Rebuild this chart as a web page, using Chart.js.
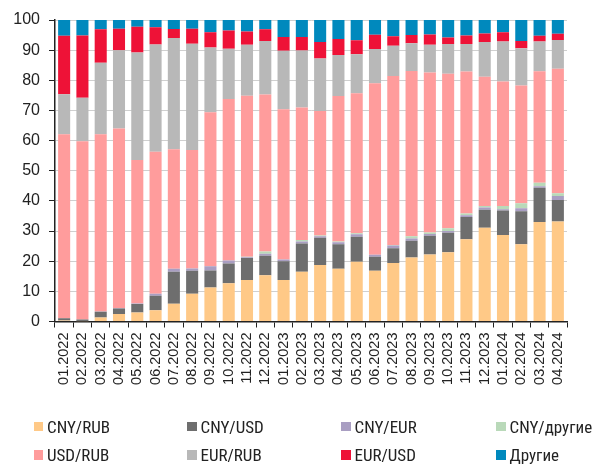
<!DOCTYPE html>
<html>
<head>
<meta charset="utf-8">
<script src="https://cdn.jsdelivr.net/npm/chart.js@4/dist/chart.umd.min.js"></script>
<style>
  html, body { margin: 0; padding: 0; background: #fff; }
  #wrap { position: relative; width: 593px; height: 468px; }
  #c { position: absolute; left: 0; top: 0; }
  .lg { position: absolute; display: flex; align-items: center; font-family: "Liberation Sans Narrow", "Roboto Condensed", Roboto, sans-serif; font-size: 17px; color: #222; white-space: nowrap; }
  .lg span.box { display: inline-block; width: 9.5px; height: 9.5px; margin-right: 4px; }
</style>
</head>
<body>
<div id="wrap">
  <canvas id="c" width="593" height="468"></canvas>
</div>
<script>
const categories = ["01.2022","02.2022","03.2022","04.2022","05.2022","06.2022","07.2022","08.2022","09.2022","10.2022","11.2022","12.2022","01.2023","02.2023","03.2023","04.2023","05.2023","06.2023","07.2023","08.2023","09.2023","10.2023","11.2023","12.2023","01.2024","02.2024","03.2024","04.2024"];

const cnyRub   = [0.3,0.1,1.3,2.5,3.0,3.7,5.9,9.2,11.3,12.7,13.8,15.3,13.8,16.5,18.7,17.5,19.8,16.8,19.4,21.2,22.2,23.0,27.3,31.1,28.7,25.6,33.0,33.2];
const cnyUsd   = [0.8,0.6,1.9,1.8,2.8,4.8,10.6,7.6,5.6,6.5,7.3,6.5,6.2,9.4,9.1,8.1,8.3,4.7,4.9,5.6,6.2,6.4,7.4,6.0,8.1,11.0,11.4,7.1];
const cnyEur   = [0,0,0.1,0.2,0.2,0.7,1.0,0.8,1.4,1.0,0.2,0.7,0.6,0.6,0.5,0.7,0.8,0.6,0.9,0.7,0.6,0.6,0.5,0.7,0.4,1.0,0.5,1.3];
const cnyOther = [0,0,0,0,0,0,0,0,0,0,0.2,0.7,0,0.5,0.2,0.2,0.4,0,0.2,0.8,0.5,0.9,0.6,0.5,1.1,1.6,1.1,0.9];
const usdRub   = [61.0,59.1,58.8,59.5,47.6,47.1,39.6,39.3,51.1,53.6,53.4,52.1,49.8,44.0,41.3,48.3,46.4,56.9,56.0,54.8,53.1,51.3,47.1,42.9,41.3,39.1,37.0,41.3];
const eurRub   = [13.3,14.4,23.7,26.0,35.6,35.6,36.9,35.2,21.5,16.7,16.9,17.7,19.4,18.9,17.4,13.6,12.9,11.4,10.1,9.2,9.2,9.8,9.1,11.5,13.3,12.3,9.9,9.6];
const eurUsd   = [19.4,20.7,11.1,7.1,8.6,5.7,3.0,5.0,5.0,6.0,4.4,3.9,4.6,4.5,5.5,5.3,4.7,4.7,3.1,2.7,3.4,2.2,2.9,2.8,3.0,2.4,1.9,2.0];
const others   = [5.2,5.1,3.1,2.9,2.2,2.4,3.0,2.9,4.1,3.5,3.8,3.1,5.6,5.6,7.3,6.3,6.7,4.9,5.4,5.0,4.8,5.8,5.1,4.5,4.1,7.0,5.2,4.6];

const seriesNames  = ["CNY/RUB","CNY/USD","CNY/EUR","CNY/другие","USD/RUB","EUR/RUB","EUR/USD","Другие"];
const seriesValues = [cnyRub, cnyUsd, cnyEur, cnyOther, usdRub, eurRub, eurUsd, others];
const seriesColors = ["#FFC987","#6E6E6E","#A99EC2","#B9D9B9","#FF9C9C","#B8B8B8","#EE1237","#0089BD"];
const yTicks = [0,10,20,30,40,50,60,70,80,90,100];

const datasets = seriesNames.map((n, i) => ({
  label: n,
  data: seriesValues[i],
  backgroundColor: seriesColors[i],
  borderWidth: 0,
  barPercentage: 0.66,
  categoryPercentage: 1.0
}));

new Chart(document.getElementById('c'), {
  type: 'bar',
  data: { labels: categories, datasets },
  options: {
    responsive: false,
    animation: false,
    layout: { padding: { top: 20, right: 26, left: 0, bottom: 0 } },
    plugins: { legend: { display: false }, tooltip: { enabled: false } },
    scales: {
      x: {
        stacked: true,
        grid: { drawOnChartArea: false, offset: true, tickLength: 6, tickColor: '#222', color: '#222' },
        border: { color: '#222', width: 1.5 },
        ticks: { minRotation: 90, maxRotation: 90, padding: 5, color: '#222', font: { family: '"Liberation Sans", Arial, sans-serif', size: 14.5 }, autoSkip: false },
        afterFit: (s) => { s.height = 468 - 321.5; }
      },
      y: {
        stacked: true,
        min: 0, max: 100,
        afterBuildTicks: (s) => { s.ticks = yTicks.map(v => ({ value: v })); },
        grid: { color: '#cfcfcf', lineWidth: 1, tickLength: 6, tickColor: '#222' },
        border: { color: '#222', width: 1.5 },
        ticks: { padding: 9, color: '#222', font: { family: '"Liberation Sans", Arial, sans-serif', size: 16 } },
        afterFit: (s) => { s.width = 55; }
      }
    }
  }
});

// HTML legend in a 4x2 grid
const wrap = document.getElementById('wrap');
const colX = [33.5, 187, 341, 496];
const rowY = [426.5, 455];
seriesNames.forEach((n, i) => {
  const d = document.createElement('div');
  d.className = 'lg';
  const col = i % 4, row = Math.floor(i / 4);
  d.style.left = colX[col] + 'px';
  d.style.top = (rowY[row] - 10) + 'px';
  d.style.height = '20px';
  const b = document.createElement('span');
  b.className = 'box';
  b.style.background = seriesColors[i];
  d.appendChild(b);
  d.appendChild(document.createTextNode(n));
  wrap.appendChild(d);
});
</script>
</body>
</html>
